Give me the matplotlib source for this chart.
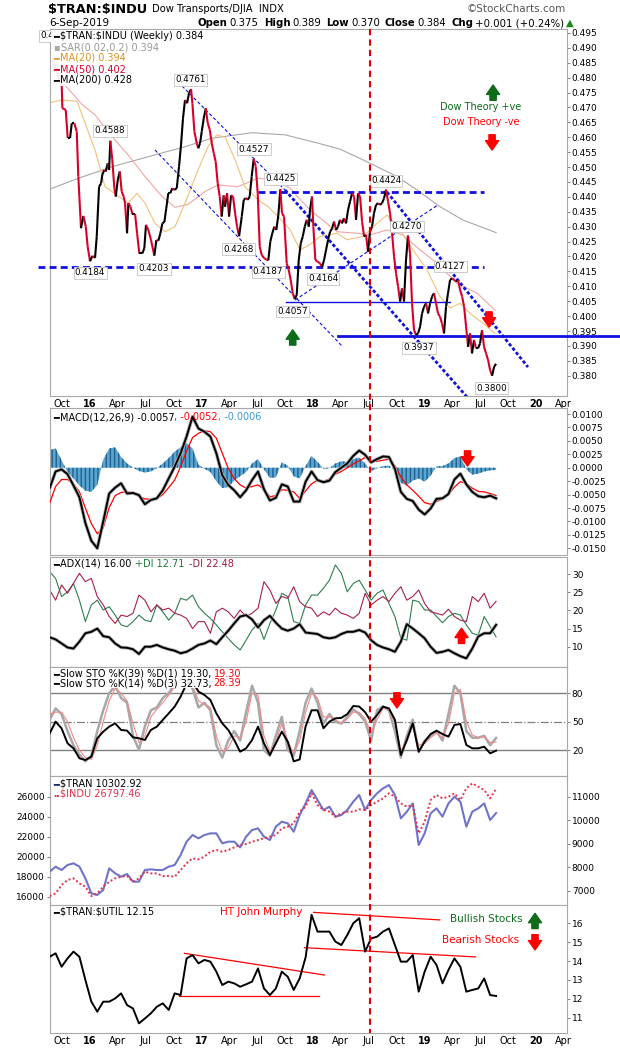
import numpy as np
import matplotlib
matplotlib.use('Agg')
import matplotlib.pyplot as plt
from matplotlib.collections import LineCollection
from matplotlib.lines import Line2D
from matplotlib.patches import Rectangle

plt.rcParams['font.family'] = ['DejaVu Sans']
plt.rcParams['text.parse_math'] = False

# ---------------- data (time in decimal years) ----------------
PRICE_T = [2015.660, 2015.705, 2015.747, 2015.753, 2015.783, 2015.801, 2015.822, 2015.837, 2015.860, 2015.882,
           2015.896, 2015.920, 2015.941, 2015.963, 2015.980, 2016.001, 2016.022, 2016.046, 2016.061, 2016.082,
           2016.100, 2016.111, 2016.129, 2016.142, 2016.160, 2016.172, 2016.183, 2016.201, 2016.219, 2016.232,
           2016.250, 2016.268, 2016.285, 2016.303, 2016.315, 2016.333, 2016.345, 2016.363, 2016.381, 2016.405,
           2016.423, 2016.443, 2016.470, 2016.488, 2016.503, 2016.524, 2016.548, 2016.578, 2016.596, 2016.614,
           2016.632, 2016.650, 2016.668, 2016.685, 2016.703, 2016.721, 2016.739, 2016.757, 2016.779, 2016.799,
           2016.817, 2016.835, 2016.853, 2016.871, 2016.889, 2016.907, 2016.919, 2016.937, 2016.958, 2016.972,
           2016.988, 2017.003, 2017.021, 2017.039, 2017.057, 2017.075, 2017.093, 2017.111, 2017.128, 2017.146,
           2017.164, 2017.182, 2017.200, 2017.212, 2017.230, 2017.248, 2017.266, 2017.284, 2017.302, 2017.320,
           2017.338, 2017.362, 2017.380, 2017.398, 2017.416, 2017.433, 2017.451, 2017.469, 2017.487, 2017.505,
           2017.523, 2017.541, 2017.564, 2017.582, 2017.600, 2017.618, 2017.636, 2017.654, 2017.672, 2017.690,
           2017.708, 2017.723, 2017.741, 2017.765, 2017.783, 2017.801, 2017.819, 2017.837, 2017.855, 2017.873,
           2017.891, 2017.909, 2017.927, 2017.945, 2017.963, 2017.974, 2017.992, 2018.004, 2018.022, 2018.040,
           2018.064, 2018.082, 2018.100, 2018.118, 2018.136, 2018.154, 2018.172, 2018.190, 2018.208, 2018.225,
           2018.243, 2018.261, 2018.279, 2018.297, 2018.315, 2018.333, 2018.351, 2018.369, 2018.387, 2018.405,
           2018.423, 2018.441, 2018.459, 2018.477, 2018.494, 2018.512, 2018.530, 2018.548, 2018.566, 2018.584,
           2018.602, 2018.620, 2018.638, 2018.656, 2018.674, 2018.692, 2018.710, 2018.728, 2018.746, 2018.764,
           2018.782, 2018.799, 2018.817, 2018.835, 2018.853, 2018.871, 2018.889, 2018.907, 2018.925, 2018.943,
           2018.961, 2018.979, 2018.997, 2019.015, 2019.033, 2019.051, 2019.069, 2019.086, 2019.104, 2019.122,
           2019.140, 2019.158, 2019.176, 2019.194, 2019.212, 2019.230, 2019.248, 2019.266, 2019.284, 2019.302,
           2019.320, 2019.338, 2019.356, 2019.374, 2019.392, 2019.409, 2019.427, 2019.445, 2019.463, 2019.481,
           2019.499, 2019.517, 2019.535, 2019.553, 2019.571, 2019.589, 2019.607, 2019.625, 2019.643]
PRICE_V = [0.486, 0.482, 0.4776, 0.4697, 0.4692, 0.4597, 0.4597, 0.4647, 0.4647, 0.4619,
           0.4468, 0.4295, 0.4336, 0.4300, 0.4233, 0.4184, 0.4202, 0.4195, 0.4266, 0.4434,
           0.4445, 0.4474, 0.4490, 0.4485, 0.4513, 0.4490, 0.4588, 0.4524, 0.4429, 0.4401,
           0.4457, 0.4485, 0.4418, 0.4401, 0.4379, 0.4278, 0.4379, 0.4367, 0.4343, 0.4343,
           0.4278, 0.4210, 0.4210, 0.4228, 0.4306, 0.4289, 0.4255, 0.4203, 0.4255, 0.4253,
           0.4278, 0.4311, 0.4316, 0.4362, 0.4412, 0.4412, 0.4429, 0.4423, 0.4429, 0.4501,
           0.4574, 0.4664, 0.4725, 0.4714, 0.4748, 0.4761, 0.4714, 0.4619, 0.4580, 0.4563,
           0.4580, 0.4619, 0.4664, 0.4697, 0.4647, 0.4625, 0.4580, 0.4546, 0.4518, 0.4446,
           0.4401, 0.4334, 0.4405, 0.4367, 0.4412, 0.4334, 0.4405, 0.4401, 0.4345, 0.4300,
           0.4268, 0.4334, 0.4390, 0.4396, 0.4390, 0.4401, 0.4468, 0.4527, 0.4502, 0.4412,
           0.4233, 0.4205, 0.4194, 0.4190, 0.4187, 0.4250, 0.4278, 0.4300, 0.4289, 0.4339,
           0.4425, 0.4345, 0.4334, 0.4177, 0.4155, 0.4121, 0.4077, 0.4057, 0.4071, 0.4188,
           0.4244, 0.4267, 0.4300, 0.4323, 0.4300, 0.4356, 0.4401, 0.4300, 0.4188, 0.4183,
           0.4177, 0.4164, 0.4188, 0.4222, 0.4256, 0.4283, 0.4294, 0.4317, 0.4289, 0.4300,
           0.4323, 0.4311, 0.4328, 0.4311, 0.4356, 0.4384, 0.4412, 0.4401, 0.4323, 0.4412,
           0.4401, 0.4317, 0.4267, 0.4272, 0.4216, 0.4283, 0.4300, 0.4345, 0.4373, 0.4379,
           0.4373, 0.4379, 0.4395, 0.4424, 0.4384, 0.4345, 0.4278, 0.4199, 0.4143, 0.4099,
           0.4049, 0.4093, 0.4049, 0.4188, 0.4270, 0.4211, 0.4043, 0.3953, 0.3937, 0.3942,
           0.3964, 0.4009, 0.4032, 0.4043, 0.4009, 0.4043, 0.4066, 0.4077, 0.4043, 0.4009,
           0.3998, 0.3975, 0.3942, 0.4032, 0.4077, 0.4121, 0.4127, 0.4122, 0.4116, 0.4121,
           0.4088, 0.4066, 0.4032, 0.3964, 0.3897, 0.3942, 0.3875, 0.3920, 0.3892, 0.3892,
           0.3908, 0.3953, 0.3897, 0.3875, 0.3853, 0.3819, 0.3800, 0.3830, 0.3840]

MA20_T = [2015.642, 2015.750, 2015.885, 2016.046, 2016.136, 2016.243, 2016.342, 2016.423, 2016.494, 2016.584,
          2016.674, 2016.763, 2016.853, 2016.970, 2017.059, 2017.140, 2017.212, 2017.302, 2017.391, 2017.508,
          2017.598, 2017.687, 2017.795, 2017.885, 2017.974, 2018.064, 2018.216, 2018.306, 2018.450, 2018.575,
          2018.665, 2018.782, 2018.898, 2019.024, 2019.140, 2019.230, 2019.320, 2019.409, 2019.526, 2019.634]
MA20_V = [0.4716, 0.4725, 0.4720, 0.4557, 0.4434, 0.4406, 0.4379, 0.4412, 0.4379, 0.4311,
          0.4283, 0.4300, 0.4379, 0.4490, 0.4568, 0.4608, 0.4600, 0.4524, 0.4434, 0.4390,
          0.4367, 0.4334, 0.4290, 0.4222, 0.4240, 0.4267, 0.4278, 0.4256, 0.4267, 0.4311,
          0.4339, 0.4289, 0.4222, 0.4155, 0.4065, 0.4027, 0.4043, 0.4009, 0.3976, 0.3942]
MA50_T = [2015.660, 2015.777, 2015.929, 2016.046, 2016.198, 2016.342, 2016.494, 2016.647, 2016.763, 2016.880,
          2017.033, 2017.149, 2017.329, 2017.508, 2017.687, 2017.795, 2017.974, 2018.216, 2018.396, 2018.512,
          2018.665, 2018.808, 2018.961, 2019.113, 2019.293, 2019.472, 2019.634]
MA50_V = [0.4840, 0.4775, 0.4710, 0.4675, 0.4602, 0.4541, 0.4468, 0.4401, 0.4365, 0.4375,
          0.4418, 0.4440, 0.4434, 0.4463, 0.4451, 0.4429, 0.4356, 0.4283, 0.4278, 0.4272,
          0.4289, 0.4272, 0.4222, 0.4177, 0.4110, 0.4077, 0.4020]
MA200_T = [2015.642, 2015.894, 2016.198, 2016.584, 2016.853, 2017.095, 2017.454, 2017.750, 2018.037, 2018.243,
           2018.450, 2018.755, 2018.934, 2019.140, 2019.347, 2019.643]
MA200_V = [0.4426, 0.4462, 0.4501, 0.4541, 0.4568, 0.4597, 0.4615, 0.4608, 0.4581, 0.4560,
           0.4524, 0.4468, 0.4423, 0.4367, 0.4322, 0.4280]

# indicator panels: samples about every three weeks
IND_START, IND_END = 2015.639, 2019.643
MACD = [-0.0038, -0.0007, -0.0003, -0.0012, -0.0033, -0.0055, -0.0103, -0.0136, -0.0150, -0.0100,
        -0.0048, -0.0037, -0.0029, -0.0048, -0.0047, -0.0051, -0.0068, -0.0060, -0.0057, -0.0042,
        -0.0020, 0.0002, 0.0027, 0.0058, 0.0095, 0.0073, 0.0067, 0.0058, 0.0027, -0.0014,
        -0.0032, -0.0042, -0.0055, -0.0042, -0.0023, -0.0007, -0.0040, -0.0061, -0.0056, -0.0031,
        -0.0035, -0.0063, -0.0063, -0.0026, -0.0007, -0.0023, -0.0027, -0.0024, -0.0008, 0.0000,
        0.0008, 0.0022, 0.0032, 0.0024, 0.0010, 0.0016, 0.0021, 0.0020, -0.0002, -0.0045,
        -0.0058, -0.0062, -0.0078, -0.0087, -0.0076, -0.0058, -0.0057, -0.0049, -0.0022, -0.0011,
        -0.0031, -0.0045, -0.0053, -0.0055, -0.0052, -0.0057]
SIGNAL = [-0.0066, -0.0035, -0.0022, -0.0022, -0.0030, -0.0045, -0.0075, -0.0104, -0.0123, -0.0112,
          -0.0074, -0.0052, -0.0046, -0.0045, -0.0047, -0.0053, -0.0058, -0.0059, -0.0058, -0.0050,
          -0.0037, -0.0023, 0.0002, 0.0031, 0.0056, 0.0064, 0.0069, 0.0067, 0.0055, 0.0027,
          -0.0001, -0.0020, -0.0032, -0.0038, -0.0035, -0.0032, -0.0040, -0.0054, -0.0052, -0.0041,
          -0.0042, -0.0045, -0.0057, -0.0043, -0.0030, -0.0023, -0.0025, -0.0021, -0.0012, -0.0007,
          0.0000, 0.0007, 0.0013, 0.0019, 0.0013, 0.0012, 0.0014, 0.0016, 0.0004, -0.0017,
          -0.0032, -0.0042, -0.0053, -0.0065, -0.0068, -0.0063, -0.0058, -0.0050, -0.0036, -0.0026,
          -0.0029, -0.0038, -0.0044, -0.0045, -0.0048, -0.0052]
HIST = [0.0033, 0.0036, 0.0014, -0.0008, -0.0020, -0.0033, -0.0043, -0.0045, -0.0032, 0.0015,
        0.0036, 0.0038, 0.0020, 0.0008, 0.0000, -0.0006, -0.0009, -0.0007, -0.0001, 0.0008,
        0.0018, 0.0030, 0.0038, 0.0046, 0.0036, 0.0006, -0.0002, -0.0008, -0.0025, -0.0038,
        -0.0036, -0.0024, -0.0016, -0.0008, 0.0008, 0.0016, -0.0003, -0.0019, -0.0018, 0.0010,
        0.0004, -0.0016, -0.0020, 0.0003, 0.0022, 0.0011, -0.0002, -0.0001, 0.0008, 0.0012,
        0.0011, 0.0016, 0.0019, 0.0008, -0.0006, -0.0001, 0.0003, 0.0004, -0.0006, -0.0028,
        -0.0033, -0.0024, -0.0020, -0.0026, -0.0015, 0.0003, 0.0003, 0.0008, 0.0018, 0.0021,
        -0.0003, -0.0013, -0.0011, -0.0007, -0.0005, -0.0004]
ADX = [12.6, 12.0, 10.9, 9.8, 9.5, 11.4, 13.7, 14.1, 15.0, 12.9,
       12.6, 10.9, 9.8, 9.7, 9.3, 8.0, 10.0, 10.0, 10.5, 9.8,
       9.3, 8.9, 8.2, 8.6, 9.5, 10.5, 10.9, 11.7, 10.7, 12.6,
       14.4, 16.4, 18.3, 18.7, 17.5, 15.3, 17.3, 18.5, 16.6, 15.0,
       14.4, 15.0, 16.2, 13.9, 13.7, 13.5, 12.6, 12.3, 12.6, 13.5,
       14.1, 14.1, 14.6, 13.9, 11.8, 10.5, 9.8, 9.3, 8.6, 11.4,
       16.2, 15.0, 13.7, 12.3, 10.0, 8.3, 8.6, 9.1, 8.2, 7.4,
       6.8, 9.5, 12.8, 13.7, 13.7, 16.0]
PDI = [30.6, 28.8, 23.8, 25.1, 27.4, 22.8, 16.9, 21.5, 22.8, 20.1,
       21.0, 18.7, 16.0, 15.5, 16.9, 18.7, 17.3, 16.9, 21.5, 19.6,
       17.3, 19.2, 23.3, 22.8, 24.2, 21.0, 19.2, 17.8, 16.0, 14.1,
       12.3, 10.5, 9.1, 11.8, 14.6, 16.4, 12.0, 16.4, 20.1, 24.7,
       23.8, 16.9, 16.4, 21.5, 24.2, 24.2, 26.1, 28.3, 32.5, 30.2,
       25.1, 27.4, 28.3, 25.6, 22.8, 24.7, 25.6, 21.9, 18.3, 12.3,
       11.8, 22.8, 22.4, 20.1, 20.1, 18.3, 16.6, 18.3, 19.2, 18.7,
       16.0, 13.7, 13.2, 18.3, 15.5, 12.7]
MDI = [25.6, 22.8, 27.0, 24.7, 27.4, 30.2, 27.9, 28.8, 23.8, 21.5,
       18.3, 16.4, 18.7, 18.3, 19.2, 24.2, 22.8, 19.6, 21.5, 20.1,
       20.6, 19.2, 18.7, 17.8, 15.0, 16.9, 16.9, 13.7, 19.6, 20.6,
       19.6, 17.8, 20.1, 18.3, 19.2, 20.6, 27.9, 25.6, 21.9, 23.8,
       23.3, 26.5, 22.4, 21.0, 20.6, 18.3, 19.6, 18.7, 20.6, 19.2,
       18.7, 17.8, 19.2, 24.7, 21.5, 22.8, 23.8, 22.4, 24.7, 26.5,
       22.8, 23.8, 25.6, 21.9, 19.6, 19.2, 18.7, 20.3, 18.3, 17.3,
       16.9, 23.8, 22.4, 24.7, 20.6, 22.5]
STO_K39 = [37.6, 50.0, 42.9, 27.1, 21.8, 11.2, 9.4, 12.9, 32.4, 39.4,
           44.7, 48.2, 41.2, 40.5, 33.4, 32.4, 30.6, 41.2, 44.7, 51.8,
           58.8, 65.9, 76.5, 90.0, 92.0, 81.8, 78.2, 72.9, 58.8, 48.2,
           41.2, 30.6, 18.2, 21.8, 30.6, 44.7, 27.1, 14.7, 27.1, 39.4,
           28.8, 8.0, 10.0, 45.0, 62.0, 62.0, 43.0, 50.0, 53.5, 54.0,
           58.0, 66.5, 66.0, 60.0, 50.0, 57.0, 65.9, 64.0, 52.0, 14.7,
           30.6, 48.2, 18.2, 28.8, 36.9, 40.5, 36.9, 34.1, 46.5, 47.5,
           25.3, 21.8, 21.8, 23.5, 16.5, 19.3]
STO_K14 = [52, 64, 58, 40, 25, 15, 8, 14, 40, 62,
           80, 88, 75, 70, 35, 20, 45, 62, 65, 75,
           80, 90, 95, 98, 85, 65, 70, 62, 25, 12,
           30, 40, 30, 60, 88, 70, 20, 14, 35, 55,
           20, 14, 40, 70, 85, 70, 48, 58, 50, 48,
           55, 63, 58, 50, 30, 62, 66, 62, 40, 12,
           35, 52, 18, 30, 35, 40, 30, 58, 88, 80,
           40, 33, 33, 35, 25, 32.7]
STO_D3 = [58, 60, 60, 50, 33, 20, 12, 10, 25, 50,
          72, 85, 80, 72, 48, 28, 35, 55, 63, 70,
          78, 87, 93, 96, 88, 72, 68, 65, 35, 18,
          22, 35, 33, 50, 80, 78, 35, 18, 28, 48,
          30, 16, 30, 60, 80, 75, 55, 55, 52, 48,
          53, 60, 60, 53, 38, 52, 64, 63, 48, 20,
          28, 46, 25, 27, 33, 38, 33, 48, 80, 84,
          50, 36, 33, 34, 28, 28.4]
TRAN = [7809, 8022, 7880, 8093, 8164, 8022, 7526, 6888, 6817, 7030,
        7951, 7739, 7597, 7710, 7384, 7384, 7880, 7909, 7880, 7880,
        8022, 8093, 8519, 9086, 9369, 9228, 9369, 9440, 9440, 9015,
        9086, 9086, 8845, 9298, 9582, 9653, 9298, 9157, 9724, 9937,
        9866, 9511, 10220, 10716, 11284, 10858, 10433, 10575, 10149, 10220,
        10433, 10787, 11071, 10433, 10858, 11142, 11355, 11496, 11071, 10078,
        10362, 10716, 8944, 9440, 10291, 10504, 10149, 10716, 11000, 10787,
        9724, 10362, 10504, 10716, 10007, 10303]
INDU = [16067, 16333, 17167, 17667, 17833, 17333, 17000, 16067, 16333, 17000,
        17500, 17833, 18000, 18067, 17500, 17833, 18500, 18333, 18333, 18067,
        18067, 18000, 18667, 19333, 19833, 19733, 20000, 20500, 20667, 20500,
        20667, 20933, 21167, 21267, 21500, 21667, 21833, 22000, 22167, 22833,
        23000, 23333, 24500, 25000, 26333, 25167, 24667, 24500, 24000, 24333,
        24500, 24500, 24733, 24667, 25167, 25500, 25833, 26333, 26000, 25333,
        25000, 25167, 22333, 23500, 25667, 26167, 25833, 26000, 26333, 25667,
        26833, 27333, 27000, 26667, 25833, 26797]
UTIL = [14.23, 14.41, 13.70, 14.14, 14.50, 14.23, 13.00, 11.85, 11.32, 11.85,
        11.85, 12.02, 12.29, 11.67, 11.49, 10.70, 10.96, 11.23, 11.58, 11.76,
        11.41, 12.29, 12.20, 14.14, 14.32, 13.88, 14.06, 13.97, 13.44, 12.73,
        12.91, 12.82, 12.64, 12.77, 12.91, 13.61, 12.55, 12.20, 12.55, 13.44,
        13.17, 12.47, 13.08, 14.20, 16.45, 15.56, 15.56, 15.56, 15.03, 14.85,
        15.38, 16.00, 16.27, 14.50, 15.20, 15.29, 15.56, 15.73, 14.85, 13.97,
        13.97, 14.32, 12.38, 13.44, 14.23, 13.79, 12.82, 13.53, 14.14, 13.70,
        12.38, 12.47, 12.55, 13.08, 12.20, 12.15]

PEAK_LABELS = [(2016.180, 0.4621, '0.4588'), (2016.904, 0.4792, '0.4761'), (2017.472, 0.4560, '0.4527'),
               (2017.710, 0.4460, '0.4425'), (2017.329, 0.4225, '0.4268'), (2016.001, 0.4145, '0.4184'),
               (2016.575, 0.4158, '0.4203'), (2017.598, 0.4148, '0.4187'), (2018.091, 0.4125, '0.4164'),
               (2017.819, 0.4015, '0.4057'), (2018.656, 0.4454, '0.4424'), (2018.844, 0.4300, '0.4270'),
               (2019.230, 0.4166, '0.4127'), (2018.952, 0.3894, '0.3937'), (2019.604, 0.3758, '0.3800')]

TICK_T = [2015.75 + 0.25 * i for i in range(19)]
TICK_L = ['Oct', '16', 'Apr', 'Jul', 'Oct', '17', 'Apr', 'Jul', 'Oct', '18', 'Apr', 'Jul',
          'Oct', '19', 'Apr', 'Jul', 'Oct', '20', 'Apr']
X0, X1 = 2015.642, 2020.279
VLINE_T = 2018.512

W, H = 620, 1050
fig = plt.figure(figsize=(6.2, 10.5), dpi=100)
fig.patch.set_facecolor('white')

RED = '#d8002a'
BLUE = '#1010e0'
GREEN = '#0d6b1a'


def panel(top, bottom):
    ax = fig.add_axes([50 / W, 1 - bottom / H, 517 / W, (bottom - top) / H])
    for s in ax.spines.values():
        s.set_color('#a8a8a8')
        s.set_linewidth(0.8)
    ax.set_xlim(X0, X1)
    ax.yaxis.tick_right()
    ax.tick_params(axis='y', labelsize=6.5, length=2, color='#888888', pad=1.5)
    ax.set_xticks(TICK_T)
    ax.tick_params(axis='x', length=0, labelbottom=False)
    return ax


def date_labels(ax):
    ax.tick_params(axis='x', labelbottom=True, labelsize=7, pad=2)
    ax.set_xticklabels(TICK_L)
    for lab in ax.get_xticklabels():
        if lab.get_text().isdigit():
            lab.set_fontweight('bold')


def text_row(x_px, y_px, pieces, size=7):
    r = fig.canvas.get_renderer()
    x = x_px
    for s, c, w, gap in pieces:
        t = fig.text(x / W, 1 - y_px / H, s, color=c, fontsize=size, fontweight=w,
                     va='center', ha='left', zorder=10)
        x += t.get_window_extent(r).width + gap
    return x


def white_box(x0, y0, x1, y1):
    fig.add_artist(Rectangle((x0 / W, 1 - y1 / H), (x1 - x0) / W, (y1 - y0) / H,
                             transform=fig.transFigure, fc='white', ec='none', alpha=0.9, zorder=5))


def block_arrow(ax, t, v, up, color):
    off = -11 if up else 11
    ax.annotate('', xy=(t, v), xytext=(0, off), textcoords='offset points',
                arrowprops=dict(arrowstyle='simple,head_length=0.75,head_width=1.05,tail_width=0.5',
                                mutation_scale=9, color=color, shrinkA=0, shrinkB=0), zorder=8)


ind_t = np.linspace(IND_START, IND_END, len(MACD))

# ---------------- header ----------------
x_end = text_row(48, 9, [('$TRAN:$INDU', 'k', 'bold', 5)], size=9.3)
text_row(x_end, 9.5, [('Dow Transports/DJIA  INDX', 'k', 'normal', 0)], size=7.2)
fig.text(566 / W, 1 - 9 / H, '\u00a9StockCharts.com', fontsize=7.5, va='center', ha='right', color='#555555')
fig.text(49 / W, 1 - 23 / H, '6-Sep-2019', fontsize=7.5, va='center')
text_row(198, 23, [('Open', 'k', 'bold', 2), ('0.375', 'k', 'normal', 5),
                   ('High', 'k', 'bold', 2), ('0.389', 'k', 'normal', 5),
                   ('Low', 'k', 'bold', 2), ('0.370', 'k', 'normal', 5),
                   ('Close', 'k', 'bold', 2), ('0.384', 'k', 'normal', 5),
                   ('Chg', 'k', 'bold', 2), ('+0.001 (+0.24%)', 'k', 'normal', 2),
                   ('\u25b2', '#1a8a1a', 'normal', 0)], size=7.3)

# ---------------- main price panel ----------------
ax = panel(29, 396)
ax.set_ylim(0.3732, 0.4963)
ticks = [0.380 + 0.005 * i for i in range(24)]
ax.set_yticks(ticks)
ax.set_yticklabels(['%.3f' % v for v in ticks])
ax.plot(MA200_T, MA200_V, color='#a8a8a8', lw=0.8, zorder=2)
ax.plot(MA50_T, MA50_V, color='#f2a5a5', lw=0.8, zorder=2)
ax.plot(MA20_T, MA20_V, color='#f0c27a', lw=0.8, zorder=2)
pts = np.column_stack([PRICE_T, PRICE_V])
segs = np.stack([pts[:-1], pts[1:]], axis=1)
cols = [RED if b < a else 'black' for a, b in zip(PRICE_V[:-1], PRICE_V[1:])]
ax.add_collection(LineCollection(segs, colors=cols, linewidths=1.5, zorder=4))

# trend lines
ax.plot([2015.532, 2019.535], [0.4166, 0.4166], color=BLUE, lw=2, ls=(0, (2.5, 1.5)), clip_on=False, zorder=3)
ax.plot([2017.508, 2019.535], [0.4417, 0.4417], color=BLUE, lw=2, ls=(0, (2.5, 1.5)), zorder=3)
ax.plot([2017.763, 2019.226], [0.4046, 0.4046], color=BLUE, lw=1, zorder=3)
ax.plot([2018.225, 2020.763], [0.3933, 0.3933], color=BLUE, lw=2, clip_on=False, zorder=3)
ax.plot([2016.584, 2018.270], [0.4557, 0.3896], color=BLUE, lw=0.8, ls=(0, (3, 2)), zorder=3)
ax.plot([2016.826, 2017.750], [0.4772, 0.4423], color=BLUE, lw=0.8, ls=(0, (3, 2)), zorder=3)
ax.plot([2017.750, 2019.391], [0.4423, 0.3725], color=BLUE, lw=2, ls=(0, (1.2, 0.8)), zorder=3)
ax.plot([2018.665, 2019.929], [0.4416, 0.3829], color=BLUE, lw=2, ls=(0, (1.2, 0.8)), zorder=3)
ax.plot([2017.840, 2019.122], [0.4054, 0.4373], color=BLUE, lw=0.8, ls=(0, (3, 2)), zorder=3)

for t, v, s in PEAK_LABELS:
    ax.text(t, v, s, fontsize=6.3, ha='center', va='center', zorder=6,
            bbox=dict(boxstyle='square,pad=0.15', fc='white', ec='#c4c4c4', lw=0.6))

block_arrow(ax, 2017.819, 0.3954, True, GREEN)
block_arrow(ax, 2019.580, 0.3963, False, 'red')
block_arrow(ax, 2019.616, 0.4775, True, GREEN)
block_arrow(ax, 2019.607, 0.4557, False, 'red')
ax.text(2019.508, 0.4702, 'Dow Theory +ve', color=GREEN, fontsize=7, ha='center', va='center')
ax.text(2019.508, 0.4651, 'Dow Theory -ve', color='red', fontsize=7, ha='center', va='center')
date_labels(ax)

white_box(51, 30, 232, 41)
white_box(51, 41, 150, 86)
fig.text(40 / W, 1 - 36 / H, '0.4', fontsize=6.3, va='center', ha='left',
         bbox=dict(boxstyle='square,pad=0.15', fc='white', ec='#c4c4c4', lw=0.6))
text_row(53, 36, [('\u2501', 'k', 'normal', 1), ('$TRAN:$INDU (Weekly) 0.384', 'k', 'normal', 0)])
text_row(53, 47, [('\u25aa', '#aaaaaa', 'normal', 1), ('SAR(0.02,0.2) 0.394', '#999999', 'normal', 0)])
text_row(53, 58, [('\u2501', '#e0a030', 'normal', 1), ('MA(20) 0.394', '#d9951f', 'normal', 0)])
text_row(53, 69, [('\u2501', RED, 'normal', 1), ('MA(50) 0.402', RED, 'normal', 0)])
text_row(53, 80, [('\u2501', 'k', 'normal', 1), ('MA(200) 0.428', 'k', 'normal', 0)])

# ---------------- MACD ----------------
axm = panel(408, 555)
axm.set_ylim(-0.01625, 0.01112)
mt = [0.0100 - 0.0025 * i for i in range(11)]
axm.set_yticks(mt)
axm.set_yticklabels(['%.4f' % v for v in mt])
axm.fill_between(ind_t, 0, HIST, facecolor='#5aa6d2', edgecolor='#225f8c', hatch='||||', lw=0, zorder=2)
axm.plot(ind_t, SIGNAL, color='red', lw=0.9, zorder=3)
axm.plot(ind_t, MACD, color='#b0b0b0', lw=2.6, zorder=3)
axm.plot(ind_t, MACD, color='black', lw=1.4, zorder=4)
block_arrow(axm, 2019.387, 0.0003, False, 'red')
text_row(53, 417, [('\u2501', 'k', 'normal', 1), ('MACD(12,26,9) -0.0057', 'k', 'normal', 0),
                   (', -0.0052', 'red', 'normal', 0), (', -0.0006', '#3d9ad1', 'normal', 0)])

# ---------------- ADX ----------------
axa = panel(557, 667)
axa.set_ylim(4.42, 34.68)
axa.set_yticks([10, 15, 20, 25, 30])
axa.plot(ind_t, PDI, color='#2e7d4f', lw=0.8, zorder=2)
axa.plot(ind_t, MDI, color='#a8204a', lw=0.8, zorder=2)
axa.plot(ind_t, ADX, color='#b8b8b8', lw=2.6, zorder=3)
axa.plot(ind_t, ADX, color='black', lw=1.4, zorder=4)
block_arrow(axa, 2019.333, 15.1, True, 'red')
text_row(53, 564, [('\u2501', 'k', 'normal', 1), ('ADX(14) 16.00', 'k', 'normal', 4),
                   ('+DI 12.71', '#1f7a3a', 'normal', 4), ('-DI 22.48', '#9b1b3c', 'normal', 0)])

# ---------------- Slow stochastics ----------------
axs = panel(667, 776)
axs.set_ylim(-7.5, 107.8)
axs.set_yticks([20, 50, 80])
axs.axhline(80, color='#808080', lw=1, zorder=1)
axs.axhline(20, color='#808080', lw=1, zorder=1)
axs.axhline(50, color='#808080', lw=0.9, ls='-.', zorder=1)
axs.plot(ind_t, STO_K14, color='#a8a8a8', lw=1.8, zorder=2)
axs.plot(ind_t, STO_D3, color='#f08a8a', lw=0.8, zorder=3)
axs.plot(ind_t, STO_K39, color='black', lw=1.4, zorder=4)
block_arrow(axs, 2018.754, 64.4, False, 'red')
white_box(51, 668, 240, 688)
text_row(53, 674, [('\u2501', 'k', 'normal', 1), ('Slow STO %K(39) %D(1) 19.30,', 'k', 'normal', 3),
                   ('19.30', 'red', 'normal', 0)])
text_row(53, 683, [('\u2501', 'k', 'normal', 1), ('Slow STO %K(14) %D(3) 32.73,', 'k', 'normal', 2),
                   ('28.39', 'red', 'normal', 0)])

# ---------------- $TRAN vs $INDU ----------------
axt = panel(776, 905)
axi = axt.twinx()
axt.yaxis.tick_right()
axt.set_ylim(6391, 11881)
axt.set_yticks([7000, 8000, 9000, 10000, 11000])
axt.plot(ind_t, TRAN, color='#7074c8', lw=1.5, zorder=3)
axi.set_xlim(X0, X1)
axi.set_ylim(15170, 28070)
axi.yaxis.tick_left()
axi.set_yticks([16000, 18000, 20000, 22000, 24000, 26000])
axi.tick_params(axis='y', labelsize=6.5, length=2, color='#888888', pad=1.5)
for s in axi.spines.values():
    s.set_visible(False)
axi.plot(ind_t, INDU, color='#e8304a', lw=1.4, ls=(0, (1, 1.2)), zorder=2)
text_row(53, 784, [('\u2501', '#1a2a6a', 'normal', 1), ('$TRAN 10302.92', 'k', 'normal', 0)])
text_row(53, 794, [('\u2024\u2024', '#e8304a', 'bold', 1), ('$INDU 26797.46', '#e8304a', 'normal', 0)])

# ---------------- $TRAN:$UTIL ----------------
axu = panel(905, 1033)
axu.set_ylim(10.19, 16.97)
axu.set_yticks([11, 12, 13, 14, 15, 16])
axu.plot(ind_t, UTIL, color='black', lw=1.4, zorder=3)
axu.plot([2016.849, 2018.105], [14.41, 13.26], color='red', lw=0.9, zorder=2)
axu.plot([2016.796, 2018.058], [12.14, 12.14], color='red', lw=0.9, zorder=2)
axu.plot([2018.006, 2019.137], [16.58, 16.18], color='red', lw=0.9, zorder=2)
axu.plot([2017.924, 2019.458], [14.71, 14.22], color='red', lw=0.9, zorder=2)
axu.text(2017.535, 16.58, 'HT John Murphy', color='red', fontsize=7.5, ha='center', va='center')
axu.text(2019.553, 16.23, 'Bullish Stocks', color=GREEN, fontsize=7.5, ha='center', va='center')
axu.text(2019.508, 15.12, 'Bearish Stocks', color='red', fontsize=7.5, ha='center', va='center')
block_arrow(axu, 2019.992, 16.53, True, GREEN)
block_arrow(axu, 2019.992, 14.59, False, 'red')
date_labels(axu)
text_row(53, 912, [('\u2501', 'k', 'normal', 1), ('$TRAN:$UTIL 12.15', 'k', 'normal', 0)])

# red dashed marker running through all panels
xv = ax.transData.transform((VLINE_T, 0.4))[0] / fig.bbox.width
fig.add_artist(Line2D([xv, xv], [1 - 29 / H, 1 - 1033 / H], transform=fig.transFigure,
                      color='#e00000', lw=1.5, ls=(0, (3, 2)), zorder=6))

fig.savefig('out.png', dpi=100)
